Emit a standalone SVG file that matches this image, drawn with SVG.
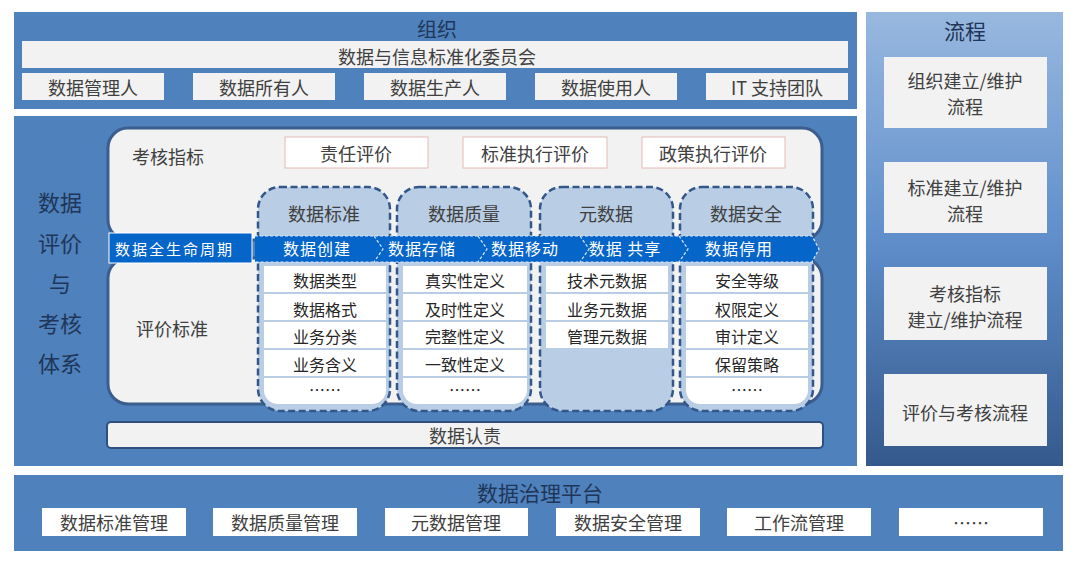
<svg xmlns="http://www.w3.org/2000/svg" width="1080" height="564" viewBox="0 0 1080 564">
<defs>
<linearGradient id="flowGrad" x1="0" y1="0" x2="0" y2="1">
<stop offset="0" stop-color="#98b8df"/>
<stop offset="0.5" stop-color="#5f8ecb"/>
<stop offset="1" stop-color="#35598c"/>
</linearGradient>
<style>
text{font-family:"Noto Sans CJK SC","Liberation Sans",sans-serif;text-anchor:middle;dominant-baseline:central}
.sec{fill:#4f81bd}
.gbox{fill:#f2f2f2}
.wbox{fill:#ffffff}
.title{font-size:21px;fill:#1f3658}
.lbl{font-size:18px;fill:#404040}
.vt{font-size:22px;fill:#1f3658}
.panel{fill:#f2f2f2;stroke:#3b5e8e;stroke-width:3}
.eval{fill:#ffffff;stroke:#e6b9b8;stroke-width:1}
.col{fill:#b9cde5;stroke:#34578a;stroke-width:2.5;stroke-dasharray:7 3.5}
.item{fill:#ffffff}
.it{font-size:16px;fill:#262626}
.hdr{font-size:18px;fill:#404040}
.lc{fill:#0565c9}
.lct{font-size:16px;fill:#ffffff;letter-spacing:1px}
.sep{fill:none;stroke:#dbe8f7;stroke-width:1.2;stroke-dasharray:3 2}
</style>
</defs>
<rect width="1080" height="564" fill="#ffffff"/>

<!-- 组织 -->
<g id="org">
<rect class="sec" x="14" y="12" width="843" height="97"/>
<text class="title" x="437" y="28" style="font-size:20px">组织</text>
<g id="committee"><rect class="gbox" x="22" y="41" width="826" height="27"/><text class="lbl" x="437" y="56">数据与信息标准化委员会</text></g>
<g id="role1"><rect class="gbox" x="22" y="73" width="142" height="27"/><text class="lbl" x="93" y="87">数据管理人</text></g>
<g id="role2"><rect class="gbox" x="193" y="73" width="142" height="27"/><text class="lbl" x="264" y="87">数据所有人</text></g>
<g id="role3"><rect class="gbox" x="364" y="73" width="142" height="27"/><text class="lbl" x="435" y="87">数据生产人</text></g>
<g id="role4"><rect class="gbox" x="535" y="73" width="142" height="27"/><text class="lbl" x="606" y="87">数据使用人</text></g>
<g id="role5"><rect class="gbox" x="706" y="73" width="142" height="27"/><text class="lbl" x="777" y="87">IT 支持团队</text></g>
</g>

<!-- 流程 -->
<g id="flow">
<rect x="866" y="12" width="197" height="454" fill="url(#flowGrad)"/>
<text class="title" x="965" y="30">流程</text>
<g id="flow1"><rect class="gbox" x="884" y="57" width="163" height="71"/><text class="lbl" x="965" y="80">组织建立/维护</text><text class="lbl" x="965" y="106">流程</text></g>
<g id="flow2"><rect class="gbox" x="884" y="162" width="163" height="71"/><text class="lbl" x="965" y="187">标准建立/维护</text><text class="lbl" x="965" y="213">流程</text></g>
<g id="flow3"><rect class="gbox" x="884" y="267" width="163" height="73"/><text class="lbl" x="965" y="293">考核指标</text><text class="lbl" x="965" y="319">建立/维护流程</text></g>
<g id="flow4"><rect class="gbox" x="884" y="374" width="163" height="72"/><text class="lbl" x="965" y="412">评价与考核流程</text></g>
</g>

<!-- 数据评价与考核体系 -->
<g id="eval-system">
<rect class="sec" x="14" y="116" width="843" height="350"/>
<text class="vt" x="60" y="201">数据</text>
<text class="vt" x="60" y="242">评价</text>
<text class="vt" x="60" y="282">与</text>
<text class="vt" x="60" y="322">考核</text>
<text class="vt" x="60" y="362">体系</text>
</g>

<g id="kpi-panel">
<rect class="panel" x="108" y="128" width="714" height="112" rx="20"/>
<text class="lbl" x="168" y="156">考核指标</text>
</g>
<g id="std-panel">
<rect class="panel" x="108" y="258" width="714" height="146" rx="20"/>
<text class="lbl" x="172" y="328">评价标准</text>
</g>

<g id="kpi1"><rect class="eval" x="285" y="137" width="143" height="31"/><text class="lbl" x="356" y="153">责任评价</text></g>
<g id="kpi2"><rect class="eval" x="463" y="137" width="144" height="31"/><text class="lbl" x="535" y="153">标准执行评价</text></g>
<g id="kpi3"><rect class="eval" x="642" y="137" width="143" height="31"/><text class="lbl" x="713" y="153">政策执行评价</text></g>

<!-- columns -->
<g id="col-standard">
<rect class="col" x="258" y="187" width="132" height="224" rx="22"/>
<text class="hdr" x="324" y="213">数据标准</text>
<rect class="item" x="264" y="266" width="122" height="26"/><text class="it" x="325" y="280">数据类型</text>
<rect class="item" x="264" y="294" width="122" height="26"/><text class="it" x="325" y="309">数据格式</text>
<rect class="item" x="264" y="322" width="122" height="26"/><text class="it" x="325" y="336">业务分类</text>
<rect class="item" x="264" y="350" width="122" height="26"/><text class="it" x="325" y="364">业务含义</text>
<path class="item" d="M264 378 H386 V390 A14 14 0 0 1 372 404 H278 A14 14 0 0 1 264 390 Z"/><text class="it" x="325" y="389">……</text>
</g>
<g id="col-quality">
<rect class="col" x="397" y="187" width="134" height="224" rx="22"/>
<text class="hdr" x="464" y="213">数据质量</text>
<rect class="item" x="403" y="266" width="124" height="26"/><text class="it" x="465" y="280">真实性定义</text>
<rect class="item" x="403" y="294" width="124" height="26"/><text class="it" x="465" y="309">及时性定义</text>
<rect class="item" x="403" y="322" width="124" height="26"/><text class="it" x="465" y="336">完整性定义</text>
<rect class="item" x="403" y="350" width="124" height="26"/><text class="it" x="465" y="364">一致性定义</text>
<path class="item" d="M403 378 H527 V390 A14 14 0 0 1 513 404 H417 A14 14 0 0 1 403 390 Z"/><text class="it" x="465" y="389">……</text>
</g>
<g id="col-meta">
<rect class="col" x="540" y="187" width="133" height="224" rx="22"/>
<text class="hdr" x="606" y="213">元数据</text>
<rect class="item" x="546" y="266" width="122" height="26"/><text class="it" x="607" y="280">技术元数据</text>
<rect class="item" x="546" y="294" width="122" height="26"/><text class="it" x="607" y="309">业务元数据</text>
<rect class="item" x="546" y="322" width="122" height="26"/><text class="it" x="607" y="336">管理元数据</text>
</g>
<g id="col-security">
<rect class="col" x="680" y="187" width="133" height="224" rx="22"/>
<text class="hdr" x="746" y="213">数据安全</text>
<rect class="item" x="686" y="266" width="122" height="26"/><text class="it" x="747" y="280">安全等级</text>
<rect class="item" x="686" y="294" width="122" height="26"/><text class="it" x="747" y="309">权限定义</text>
<rect class="item" x="686" y="322" width="122" height="26"/><text class="it" x="747" y="336">审计定义</text>
<rect class="item" x="686" y="350" width="122" height="26"/><text class="it" x="747" y="364">保留策略</text>
<path class="item" d="M686 378 H808 V390 A14 14 0 0 1 794 404 H700 A14 14 0 0 1 686 390 Z"/><text class="it" x="747" y="389">……</text>
</g>

<!-- lifecycle -->
<g id="lifecycle">
<rect class="lc" x="109" y="233" width="143" height="30" stroke="#ffffff" stroke-width="1"/>
<text class="lct" x="115" y="248" style="text-anchor:start;letter-spacing:2px;font-size:15px">数据全生命周期</text>
<polygon class="lc" points="255,236 812,236 819,249 812,262 255,262"/>
<polyline class="sep" points="255,236 812,236 819,249 812,262 255,262"/>
<polyline class="sep" points="374,236 383,249 374,262"/>
<polyline class="sep" points="478,236 487,249 478,262"/>
<polyline class="sep" points="580,236 589,249 580,262"/>
<polyline class="sep" points="679,236 688,249 679,262"/>
<text class="lct" x="317" y="248">数据创建</text>
<text class="lct" x="422" y="248">数据存储</text>
<text class="lct" x="525" y="248">数据移动</text>
<text class="lct" x="625" y="248">数据 共享</text>
<text class="lct" x="739" y="248">数据停用</text>
</g>

<g id="accountability">
<rect x="107" y="422" width="716" height="26" rx="4" fill="#f2f2f2" stroke="#2f4f7f" stroke-width="2"/>
<text class="lbl" x="465" y="435">数据认责</text>
</g>

<!-- 数据治理平台 -->
<g id="platform">
<rect class="sec" x="14" y="475" width="1049" height="76"/>
<text class="title" x="540" y="492">数据治理平台</text>
<g id="p1"><rect class="wbox" x="42" y="508" width="144" height="28"/><text class="lbl" x="114" y="522">数据标准管理</text></g>
<g id="p2"><rect class="wbox" x="213" y="508" width="144" height="28"/><text class="lbl" x="285" y="522">数据质量管理</text></g>
<g id="p3"><rect class="wbox" x="385" y="508" width="143" height="28"/><text class="lbl" x="456" y="522">元数据管理</text></g>
<g id="p4"><rect class="wbox" x="556" y="508" width="144" height="28"/><text class="lbl" x="628" y="522">数据安全管理</text></g>
<g id="p5"><rect class="wbox" x="727" y="508" width="144" height="28"/><text class="lbl" x="799" y="522">工作流管理</text></g>
<g id="p6"><rect class="wbox" x="899" y="508" width="144" height="28"/><text class="lbl" x="971" y="522">……</text></g>
</g>
<g id="connectors"/>
</svg>
